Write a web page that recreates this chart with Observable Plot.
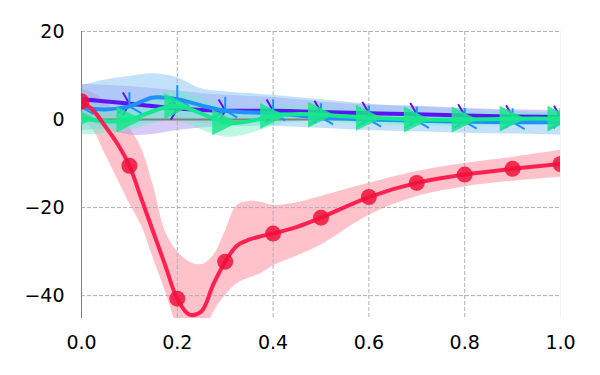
<!DOCTYPE html>
<html><head><meta charset="utf-8">
<script src="https://cdn.jsdelivr.net/npm/d3@7"></script>
<script src="https://cdn.jsdelivr.net/npm/@observablehq/plot@0.6"></script>
<style>body{margin:0;background:#fff}</style>
</head><body><div id="chart"></div>
<script>
const xTicks = [0, 0.2, 0.4, 0.6, 0.8, 1.0];
const yTicks = [-40, -20, 0, 20];

// red series (read densely near the dip)
const redX   = [0, 0.025, 0.05, 0.075, 0.1, 0.125, 0.15, 0.175, 0.2, 0.225, 0.25, 0.275, 0.3, 0.325, 0.35, 0.375, 0.4, 0.45, 0.5, 0.6, 0.7, 0.8, 0.9, 1.0];
const red    = [4.1, 2.0, -1.6, -5.5, -10.5, -18.0, -25.6, -33.2, -40.7, -44.3, -43.6, -37.5, -32.3, -28.6, -27.3, -26.5, -25.9, -24.4, -22.3, -17.6, -14.4, -12.5, -11.2, -10.1];
const redHi  = [7, 6, 4, 1, -2.0, -6.5, -15, -25.5, -30, -32.3, -33, -31, -25.5, -19.5, -18.6, -18.8, -19.5, -18.9, -17.5, -14.5, -11.8, -10, -8.6, -7.0];
const redLo  = [0, -2.5, -8, -13.5, -19, -24, -31.5, -39, -47, -52, -50, -44, -40, -37.3, -36, -35, -33.3, -31, -28.5, -21.8, -17.5, -15.3, -14.0, -13.1];

// purple series
const purpleX  = [0, 0.1, 0.2, 0.3, 0.4, 0.5, 0.6, 0.7, 0.8, 0.9, 1.0];
const purple   = [4.6, 3.6, 2.5, 2.0, 2.0, 1.7, 1.4, 1.2, 0.9, 0.7, 0.6];
const purpleLo = [0.5, -3.5, -2.5, -1.5, -0.5, -0.3, -0.2, -0.2, -0.3, -0.3, -0.3];
const purpleHi = [8, 7.5, 6.5, 5.5, 5, 4, 3.3, 3, 2.5, 2.2, 2.0];

// blue series
const blueX  = [0, 0.05, 0.1, 0.15, 0.2, 0.25, 0.3, 0.4, 0.5, 0.6, 0.7, 0.8, 0.9, 1.0];
const blue   = [2.8, 2.3, 3.0, 5.0, 4.6, 3.2, 2.0, 1.4, 0.5, 0.0, -0.3, -0.5, -0.6, -0.6];
const blueLo = [-2.5, -2.2, -1.5, -0.5, 0, -0.8, -1.5, -1.5, -2, -2.5, -2.8, -3.1, -3.3, -3.6];
const blueHi = [7.7, 9.0, 9.8, 10.4, 9.5, 7.0, 6.3, 5.5, 4.5, 3.5, 2.9, 2.4, 1.9, 1.5];

// green series
const greenX  = [0, 0.1, 0.2, 0.3, 0.4, 0.5, 0.6, 0.7, 0.8, 0.9, 1.0];
const green   = [0.3, 0.0, 3.0, -0.6, 0.8, 1.1, 0.4, 0.0, 0.0, 0.2, 0.2];
const greenLo = [-3.5, -2.5, -0.5, -4, -1.5, -0.5, -1.2, -1.5, -1.5, -1.3, -1.3];
const greenHi = [4, 3, 6.5, 2.5, 3, 2.7, 2, 1.5, 1.5, 1.6, 1.6];

const toRows = (X, Y, L, H) => X.map((x, i) => ({x, y: Y[i], lo: L[i], hi: H[i]}));
const onTenth = d => Math.abs(d.x * 10 - Math.round(d.x * 10)) < 1e-6;
const rows = {
  red: toRows(redX, red, redLo, redHi),
  purple: toRows(purpleX, purple, purpleLo, purpleHi),
  blue: toRows(blueX, blue, blueLo, blueHi),
  green: toRows(greenX, green, greenLo, greenHi)
};

function spokes(angles) {
  return {draw(ctx, size) {
    const r = Math.sqrt(size / Math.PI);
    for (const a of angles) {
      const t = a * Math.PI / 180;
      ctx.moveTo(0, 0);
      ctx.lineTo(r * Math.cos(t), -r * Math.sin(t));
    }
  }};
}
const triUp = spokes([90, 210, 330]);
const triRight = spokes([0, 120, 240]);
const triangleRight = {draw(ctx, size) {
  const s = Math.sqrt(size / Math.PI);
  ctx.moveTo(s, 0); ctx.lineTo(-s, -s); ctx.lineTo(-s, s); ctx.closePath();
}};

const band = (d, fill, op, curve) => Plot.areaY(d, {x: "x", y1: "lo", y2: "hi", curve, fill, fillOpacity: op, clip: true});
const line = (d, stroke, curve) => Plot.line(d, {x: "x", y: "y", curve, stroke, strokeWidth: 4, clip: true});

const chart = Plot.plot({
  width: 600, height: 375,
  marginLeft: 81, marginRight: 40, marginTop: 31, marginBottom: 57,
  style: {fontFamily: "DejaVu Sans", fontSize: "19px", color: "#000", background: "#fff"},
  x: {domain: [0, 1]},
  y: {domain: [-45.2, 20]},
  marks: [
    band(rows.red, "#ffb6c1", 0.85, "catmull-rom"),
    band(rows.purple, "#a58cf0", 0.45, "natural"),
    band(rows.blue, "#87c5f5", 0.5, "catmull-rom"),
    band(rows.green, "#6ff0c0", 0.45, "natural"),
    Plot.ruleX(xTicks.slice(1, -1), {stroke: "#b0b0b0", strokeWidth: 1, strokeDasharray: "4,2"}),
    Plot.ruleX([1.0], {stroke: "#f2f2f2", strokeWidth: 1}),
    Plot.ruleY([-40, -20, 20], {stroke: "#b0b0b0", strokeWidth: 1, strokeDasharray: "4,2"}),
    Plot.ruleY([0], {stroke: "#808080", strokeWidth: 2}),
    Plot.ruleX([0], {stroke: "#808080", strokeWidth: 1}),
    line(rows.purple, "#5a14f5", "natural"),
    Plot.dot(rows.purple.filter(onTenth), {x: "x", y: "y", symbol: triRight, r: 13, fill: "none", stroke: "#5a14f5", strokeWidth: 2, clip: true}),
    line(rows.blue, "#1e90ff", "catmull-rom"),
    Plot.dot(rows.blue.filter(onTenth), {x: "x", y: "y", symbol: triUp, r: 14, fill: "none", stroke: "#1e90ff", strokeWidth: 2, clip: true}),
    line(rows.green, "#14e88c", "natural"),
    Plot.dot(rows.green, {x: "x", y: "y", symbol: triangleRight, r: 13, fill: "#19e68c", fillOpacity: 0.85, stroke: "none", clip: true}),
    line(rows.red, "#ff2050", "catmull-rom"),
    Plot.dot(rows.red.filter(onTenth), {x: "x", y: "y", r: 8, fill: "#f0103c", fillOpacity: 0.85, clip: true}),
    Plot.axisY({ticks: yTicks, tickSize: 0, tickPadding: 17, label: null}),
    Plot.axisX({ticks: xTicks, tickSize: 0, tickPadding: 17, tickFormat: d3.format(".1f"), label: null})
  ]
});
document.getElementById("chart").appendChild(chart);
</script>
</body></html>
